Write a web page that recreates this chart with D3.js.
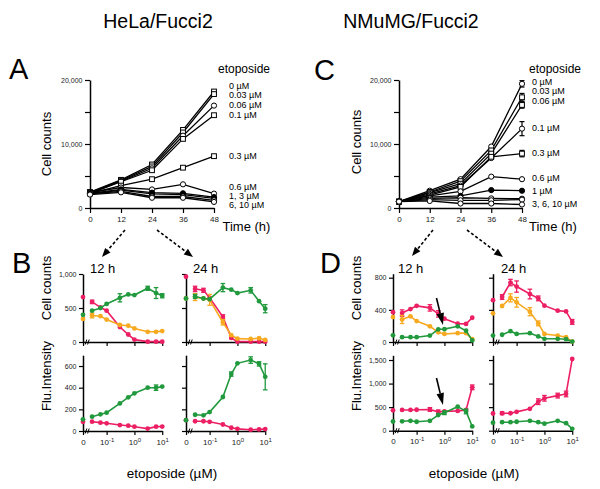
<!DOCTYPE html>
<html><head><meta charset="utf-8">
<script src="https://cdn.jsdelivr.net/npm/d3@7"></script>
<style>body{margin:0;background:#fff}</style>
</head><body><svg id="c" width="600" height="489" style="background:#fff"></svg>
<script>
// ---------------- DATA ----------------
const times = [0, 12, 24, 36, 48];
const countTicks = [0, 5000, 10000, 15000, 20000];
const countTickLabels = [0, 10000, 20000];
const concs = ["0", "0.03", "0.06", "0.1", "0.3", "0.6", "1", "3", "6", "10"];

// HeLa/Fucci2 cell counts vs time, one array per etoposide concentration
const hela0    = [2500, 4400, 6800, 12200, 18200];
const hela003  = [2400, 4300, 6500, 11800, 17800];
const hela006  = [2300, 4200, 6200, 11300, 16000];
const hela01   = [2300, 4100, 5900, 10800, 14500];
const hela03   = [2300, 3500, 4500, 6300, 8100];
const hela06   = [2400, 3200, 2900, 3700, 2250];
const hela1    = [2300, 2900, 2400, 2300, 1700];
const hela3    = [2200, 2800, 2200, 2100, 1500];
const hela6    = [2200, 2600, 1800, 1800, 1200];
const hela10   = [2100, 2450, 1600, 1600, 950];
const helaMarks = ["s", "s", "c", "s", "s", "c", "f", "f", "c", "c"];
const helaErr48 = [0, 0, 0, 0, 0, 0, 0, 0, 0, 0];

// NMuMG/Fucci2 cell counts vs time
const nm0    = [1000, 2700, 4500, 9600, 19400];
const nm003  = [1000, 2500, 4200, 9000, 17300];
const nm006  = [1000, 2400, 3800, 8500, 16100];
const nm01   = [1000, 2200, 3500, 7800, 12400];
const nm03   = [1000, 2000, 3300, 8000, 8500];
const nm06   = [1000, 1900, 2600, 4900, 4500];
const nm1    = [1000, 1700, 1900, 2800, 2700];
const nm3    = [1000, 1500, 1600, 1500, 1450];
const nm6    = [1000, 1300, 1200, 1200, 1300];
const nm10   = [1000, 1100, 700, 700, 550];
const nmMarks = ["c", "s", "s", "c", "s", "c", "f", "c", "c", "c"];
const nmErr48 = [500, 600, 500, 1100, 500, 0, 0, 0, 0, 0];

// etoposide doses (µM) for dose panels
const doses = [0, 0.03, 0.06, 0.1, 0.3, 0.6, 1, 3, 6, 10];
const doseTicks = [0.1, 1, 10];
const doseTickExp = ["-1", "0", "1"];

// HeLa cell counts
const helaCnt12Red    = [660, 590, 510, 460, 220, 110, 35, 5, 5, 5];
const helaCnt12Orange = [340, 390, 380, 330, 250, 240, 200, 150, 150, 160];
const helaCnt12Green  = [400, 460, 500, 560, 650, 700, 690, 790, 720, 680];
const helaCnt12RedErr    = [0, 25, 0, 0, 0, 0, 0, 0, 0, 0];
const helaCnt12OrangeErr = [0, 35, 0, 0, 0, 0, 0, 0, 0, 0];
const helaCnt12GreenErr  = [0, 0, 0, 0, 60, 0, 0, 30, 80, 30];
const helaCnt24Red    = [960, 780, 760, 650, 370, 60, 5, 5, 5, 5];
const helaCnt24Orange = [640, 660, 640, 620, 290, 100, 50, 45, 55, 30];
const helaCnt24Green  = [640, 670, 640, 630, 800, 770, 720, 760, 600, 490];
const helaCnt24RedErr    = [0, 40, 30, 0, 30, 0, 0, 0, 0, 0];
const helaCnt24OrangeErr = [0, 50, 0, 80, 40, 0, 0, 0, 0, 0];
const helaCnt24GreenErr  = [0, 30, 0, 0, 60, 0, 0, 40, 0, 60];
// HeLa fluorescence intensity
const helaFlu12Red    = [85, 86, 77, 71, 55, 49, 40, 22, 40, 41];
const helaFlu12Green  = [108, 132, 154, 169, 255, 311, 348, 400, 400, 410];
const helaFlu12RedErr   = [0, 0, 0, 0, 0, 0, 0, 0, 0, 0];
const helaFlu12GreenErr = [0, 0, 0, 0, 0, 0, 0, 0, 25, 0];
const helaFlu24Red    = [100, 90, 90, 85, 60, 30, 20, 12, 15, 18];
const helaFlu24Green  = [100, 150, 145, 175, 314, 526, 625, 655, 620, 500];
const helaFlu24RedErr   = [0, 0, 0, 0, 0, 0, 0, 0, 0, 0];
const helaFlu24GreenErr = [0, 0, 0, 0, 0, 20, 0, 30, 20, 120];

// NMuMG cell counts
const nmCnt12Red    = [370, 360, 410, 450, 425, 350, 290, 228, 225, 302];
const nmCnt12Orange = [310, 280, 320, 260, 195, 120, 100, 110, 110, 35];
const nmCnt12Green  = [83, 60, 60, 60, 80, 158, 160, 195, 140, 20];
const nmCnt12RedErr    = [0, 40, 0, 0, 40, 40, 0, 0, 0, 0];
const nmCnt12OrangeErr = [0, 50, 0, 0, 0, 0, 0, 0, 0, 0];
const nmCnt12GreenErr  = [0, 0, 0, 0, 0, 0, 0, 0, 0, 0];
const nmCnt24Red    = [520, 560, 740, 690, 597, 543, 452, 390, 380, 250];
const nmCnt24Orange = [357, 448, 550, 494, 377, 232, 100, 80, 60, 5];
const nmCnt24Green  = [80, 90, 135, 100, 110, 70, 40, 40, 35, 5];
const nmCnt24RedErr    = [0, 30, 40, 70, 60, 30, 0, 0, 0, 30];
const nmCnt24OrangeErr = [0, 0, 50, 60, 50, 30, 0, 0, 0, 0];
const nmCnt24GreenErr  = [0, 0, 0, 0, 0, 0, 0, 0, 0, 0];
// NMuMG fluorescence intensity
const nmFlu12Red    = [433, 440, 440, 445, 450, 400, 410, 420, 440, 921];
const nmFlu12Green  = [195, 200, 210, 190, 210, 333, 382, 510, 410, 90];
const nmFlu12RedErr   = [0, 0, 0, 0, 40, 40, 0, 0, 0, 50];
const nmFlu12GreenErr = [0, 0, 0, 0, 0, 0, 40, 0, 50, 0];
const nmFlu24Red    = [365, 370, 370, 400, 465, 616, 688, 745, 780, 1522];
const nmFlu24Green  = [170, 180, 180, 190, 210, 180, 150, 210, 160, 40];
const nmFlu24RedErr   = [0, 30, 0, 0, 0, 60, 60, 50, 60, 0];
const nmFlu24GreenErr = [0, 0, 0, 0, 0, 0, 0, 0, 0, 0];

// ---------------- DRAWING ----------------
const FONT = '"Liberation Sans", Arial, Helvetica, sans-serif';
const RED = "#ec1f63", ORANGE = "#f7a91f", GREEN = "#21993d";
const svg = d3.select("#c").attr("font-family", FONT);

function styleAxis(g, fs) {
  g.select(".domain").attr("stroke", "#000").attr("stroke-width", 1.5);
  g.selectAll(".tick line").attr("stroke", "#000").attr("stroke-width", 1.2);
  g.selectAll(".tick text").attr("font-size", fs).attr("fill", "#222").attr("font-family", FONT);
}

function txt(x, y, s, fs, opts = {}) {
  const t = svg.append("text").attr("x", x).attr("y", y).attr("font-size", fs)
    .attr("fill", "#000").text(s);
  if (opts.anchor) t.attr("text-anchor", opts.anchor);
  return t;
}
function vtxt(x, y, s, fs) {
  svg.append("text").attr("transform", `translate(${x},${y}) rotate(-90)`)
    .attr("text-anchor", "middle").attr("font-size", fs).text(s);
}

function arrow(x1, y1, x2, y2, len, wid, dash) {
  const a = Math.atan2(y2 - y1, x2 - x1);
  const bx = x2 - len * Math.cos(a), by = y2 - len * Math.sin(a);
  const l = svg.append("line").attr("x1", x1).attr("y1", y1).attr("x2", bx).attr("y2", by)
    .attr("stroke", "#000").attr("stroke-width", 1.6);
  if (dash) l.attr("stroke-dasharray", dash);
  const px = -Math.sin(a) * wid / 2, py = Math.cos(a) * wid / 2;
  svg.append("polygon").attr("points", `${x2},${y2} ${bx + px},${by + py} ${bx - px},${by - py}`)
    .attr("fill", "#000");
}

function timePanel(p) {
  const g = svg.append("g");
  const x = d3.scaleLinear().domain([0, 48]).range([p.x0, p.x1]);
  const y = d3.scaleLinear().domain([0, 20000]).range([208, 80]);
  const ax = g.append("g").attr("transform", "translate(0,208)")
    .call(d3.axisBottom(x).tickValues(times).tickSize(5).tickSizeOuter(0).tickPadding(3.5));
  styleAxis(ax, 8);
  const ay = g.append("g").attr("transform", `translate(${p.x0},0)`)
    .call(d3.axisLeft(y).tickValues(countTicks).tickSize(5).tickSizeOuter(0).tickPadding(2.5)
      .tickFormat(d => countTickLabels.includes(d) ? d3.format(",")(d) : ""));
  styleAxis(ay, 7);
  const line = d3.line().x((d, i) => x(times[i])).y(d => y(d));
  p.data.forEach(s => g.append("path").attr("d", line(s)).attr("fill", "none")
    .attr("stroke", "#000").attr("stroke-width", 1.3));
  p.data.forEach((s, k) => {
    const e = p.err48[k];
    if (e > 0) {
      const xx = x(48), v = s[4];
      g.append("line").attr("x1", xx).attr("x2", xx).attr("y1", y(v - e)).attr("y2", y(v + e)).attr("stroke", "#000").attr("stroke-width", 1.2);
      [v - e, v + e].forEach(w => g.append("line").attr("x1", xx - 2.5).attr("x2", xx + 2.5).attr("y1", y(w)).attr("y2", y(w)).attr("stroke", "#000").attr("stroke-width", 1.2));
    }
  });
  p.data.forEach((s, k) => {
    const m = p.marks[k];
    s.forEach((v, i) => {
      if (m === "s") {
        g.append("rect").attr("x", x(times[i]) - 2.4).attr("y", y(v) - 2.4).attr("width", 4.8).attr("height", 4.8)
          .attr("fill", "#fff").attr("stroke", "#000").attr("stroke-width", 1);
      } else {
        g.append("circle").attr("cx", x(times[i])).attr("cy", y(v)).attr("r", 2.6)
          .attr("fill", m === "f" ? "#000" : "#fff").attr("stroke", "#000").attr("stroke-width", 1);
      }
    });
  });
}

function dosePanel(p) {
  const g = svg.append("g");
  const dec = 27.8;
  const xl = d3.scaleLog().domain([Math.pow(10, -1.85), 10]).range([p.ox, p.ox + 2.85 * dec]);
  const xf = d => d === 0 ? p.ox : xl(d);
  const y = d3.scaleLinear().domain([0, p.max]).range([p.y0, p.top]);
  // x axis
  const ax = g.append("g").attr("transform", `translate(0,${p.y0})`)
    .call(d3.axisBottom(xl).tickValues([Math.pow(10, -1.85)].concat(doseTicks)).tickSize(4).tickSizeOuter(0).tickPadding(4).tickFormat(""));
  styleAxis(ax, 8);
  if (p.showX) {
    ax.selectAll(".tick text").each(function (d, i) {
      const t = d3.select(this).attr("font-size", 8).attr("fill", "#222");
      if (i === 0) { t.text("0"); }
      else {
        t.text("");
        t.append("tspan").text("10");
        t.append("tspan").attr("font-size", 6).attr("dy", "-0.5em").text(doseTickExp[i - 1]);
      }
    });
  }
  // axis break marks
  [2.2, 4.6].forEach(o => g.append("line").attr("x1", p.ox + o).attr("y1", p.y0 + 2.5)
    .attr("x2", p.ox + o + 1.6).attr("y2", p.y0 - 2.5).attr("stroke", "#000").attr("stroke-width", 1));
  // y axis
  const ay = g.append("g").attr("transform", `translate(${p.ox},0)`)
    .call(d3.axisLeft(y).tickValues(p.ticks).tickSize(4).tickSizeOuter(0).tickPadding(2.5)
      .tickFormat(p.showY ? d3.format(",") : ""));
  styleAxis(ay, 7);
  const line = d3.line().x((d, i) => xf(doses[i + 1])).y(d => y(d));
  p.series.forEach(s => {
    g.append("path").attr("d", line(s.v.slice(1))).attr("fill", "none")
      .attr("stroke", s.c).attr("stroke-width", 1.6);
    s.v.forEach((v, i) => {
      const e = s.e[i], xx = xf(doses[i]);
      if (e > 0) {
        g.append("line").attr("x1", xx).attr("x2", xx).attr("y1", y(Math.max(0, v - e))).attr("y2", y(v + e)).attr("stroke", s.c).attr("stroke-width", 1.3);
        [v - e, v + e].forEach(w => g.append("line").attr("x1", xx - 2.3).attr("x2", xx + 2.3).attr("y1", y(Math.max(0, w))).attr("y2", y(Math.max(0, w))).attr("stroke", s.c).attr("stroke-width", 1.3));
      }
      g.append("circle").attr("cx", xx).attr("cy", y(v)).attr("r", 2.4).attr("fill", s.c);
    });
  });
}

// Titles and panel letters
txt(158, 28, "HeLa/Fucci2", 19.5, { anchor: "middle" });
txt(411, 28, "NMuMG/Fucci2", 19.5, { anchor: "middle" });
txt(9, 79, "A", 29); txt(314, 80, "C", 29);
txt(12, 273, "B", 29); txt(320, 273, "D", 29);

// Panel A
timePanel({ x0: 90, x1: 214,
  data: [hela0, hela003, hela006, hela01, hela03, hela06, hela1, hela3, hela6, hela10],
  marks: helaMarks, err48: helaErr48 });
// Panel C
timePanel({ x0: 399, x1: 522,
  data: [nm0, nm003, nm006, nm01, nm03, nm06, nm1, nm3, nm6, nm10],
  marks: nmMarks, err48: nmErr48 });

vtxt(51, 144, "Cell counts", 13); vtxt(361, 142, "Cell counts", 13);
txt(218, 72.5, "etoposide", 12); txt(529, 72.5, "etoposide", 12);
txt(222.5, 231, "Time (h)", 13); txt(529, 231, "Time (h)", 13);

const helaLab = [["0 µM", 88.5], ["0.03 µM", 97.5], ["0.06 µM", 108], ["0.1 µM", 118], ["0.3 µM", 158.5], ["0.6 µM", 189.5], ["1, 3 µM", 198.5], ["6, 10 µM", 208]];
helaLab.forEach(d => txt(229, d[1], d[0], 9));
const nmLab = [["0 µM", 84.5], ["0.03 µM", 93.5], ["0.06 µM", 103.5], ["0.1 µM", 131], ["0.3 µM", 156], ["0.6 µM", 180.5], ["1 µM", 193.5], ["3, 6, 10 µM", 207]];
nmLab.forEach(d => txt(532, d[1], d[0], 9));

// Dashed arrows
arrow(125, 230, 102, 257, 9, 7, "3,2.2");
arrow(157, 230, 193, 257, 9, 7, "3,2.2");
arrow(433, 230, 412, 256, 9, 7, "3,2.2");
arrow(467, 230, 503, 257, 9, 7, "3,2.2");

// Panel B
dosePanel({ ox: 83, y0: 342, max: 1000, top: 274, ticks: [0, 500, 1000], showY: true, showX: false,
  series: [{ v: helaCnt12Red, e: helaCnt12RedErr, c: RED }, { v: helaCnt12Orange, e: helaCnt12OrangeErr, c: ORANGE }, { v: helaCnt12Green, e: helaCnt12GreenErr, c: GREEN }] });
dosePanel({ ox: 186, y0: 342, max: 1000, top: 274, ticks: [0, 500, 1000], showY: false, showX: false,
  series: [{ v: helaCnt24Red, e: helaCnt24RedErr, c: RED }, { v: helaCnt24Orange, e: helaCnt24OrangeErr, c: ORANGE }, { v: helaCnt24Green, e: helaCnt24GreenErr, c: GREEN }] });
dosePanel({ ox: 83, y0: 431, max: 700, top: 355.2, ticks: [0, 200, 400, 600], showY: true, showX: true,
  series: [{ v: helaFlu12Red, e: helaFlu12RedErr, c: RED }, { v: helaFlu12Green, e: helaFlu12GreenErr, c: GREEN }] });
dosePanel({ ox: 186, y0: 431, max: 700, top: 355.2, ticks: [0, 200, 400, 600], showY: false, showX: true,
  series: [{ v: helaFlu24Red, e: helaFlu24RedErr, c: RED }, { v: helaFlu24Green, e: helaFlu24GreenErr, c: GREEN }] });

// Panel D
dosePanel({ ox: 393, y0: 342, max: 850, top: 273.7, ticks: [0, 400, 800], showY: true, showX: false,
  series: [{ v: nmCnt12Red, e: nmCnt12RedErr, c: RED }, { v: nmCnt12Orange, e: nmCnt12OrangeErr, c: ORANGE }, { v: nmCnt12Green, e: nmCnt12GreenErr, c: GREEN }] });
dosePanel({ ox: 493, y0: 342, max: 850, top: 273.7, ticks: [0, 400, 800], showY: false, showX: false,
  series: [{ v: nmCnt24Red, e: nmCnt24RedErr, c: RED }, { v: nmCnt24Orange, e: nmCnt24OrangeErr, c: ORANGE }, { v: nmCnt24Green, e: nmCnt24GreenErr, c: GREEN }] });
dosePanel({ ox: 393, y0: 430.7, max: 1600, top: 355.3, ticks: [0, 500, 1000, 1500], showY: true, showX: true,
  series: [{ v: nmFlu12Red, e: nmFlu12RedErr, c: RED }, { v: nmFlu12Green, e: nmFlu12GreenErr, c: GREEN }] });
dosePanel({ ox: 493, y0: 430.7, max: 1600, top: 355.3, ticks: [0, 500, 1000, 1500], showY: false, showX: true,
  series: [{ v: nmFlu24Red, e: nmFlu24RedErr, c: RED }, { v: nmFlu24Green, e: nmFlu24GreenErr, c: GREEN }] });

// Sub-panel labels
txt(90, 272.5, "12 h", 13); txt(193, 272.5, "24 h", 13);
txt(398, 272.5, "12 h", 13); txt(501, 272.5, "24 h", 13);
vtxt(51, 288, "Cell counts", 13); vtxt(50.5, 376, "Flu.Intensity", 13);
vtxt(361, 288, "Cell counts", 13); vtxt(360.5, 376, "Flu.Intensity", 13);
txt(172, 478, "etoposide (µM)", 13.5, { anchor: "middle" });
txt(474, 478, "etoposide (µM)", 13.5, { anchor: "middle" });

// Black arrows in D
arrow(436.5, 298, 443, 325, 12, 7.5, null);
arrow(436.5, 378, 443, 405, 12, 7.5, null);
</script>
</body></html>
